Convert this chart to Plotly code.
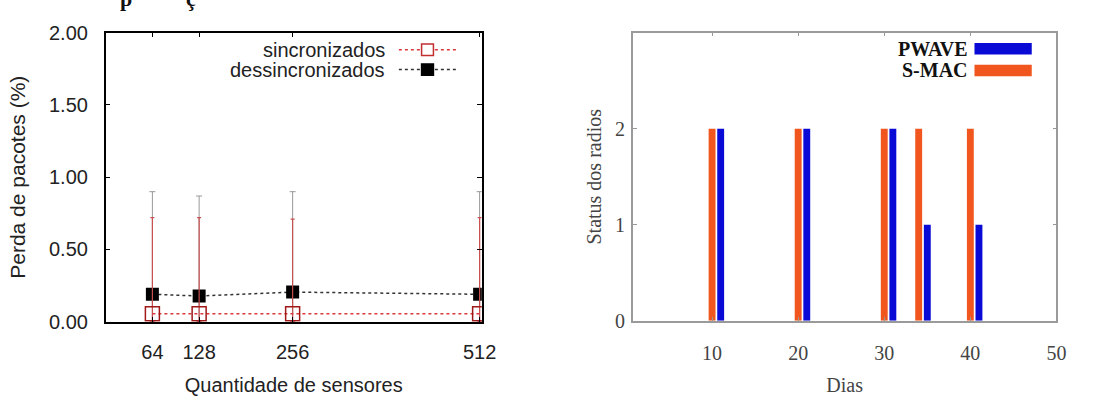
import plotly.graph_objects as go

# ---------------- data ----------------
sensores = [64, 128, 256, 512]
sinc = [0.055, 0.055, 0.055, 0.055]
sinc_top = [0.72, 0.72, 0.71, 0.72]
dessinc = [0.19, 0.178, 0.205, 0.19]
dessinc_top = [0.90, 0.87, 0.90, 0.90]

smac_days = [10, 20, 30, 34, 40]
smac_vals = [2, 2, 2, 2, 2]
pwave_days = [11, 21, 31, 35, 41]
pwave_vals = [2, 2, 2, 1, 1]

left_yticks = [0, 0.5, 1.0, 1.5, 2.0]
left_yticklabels = ["0.00", "0.50", "1.00", "1.50", "2.00"]
right_xticks = [10, 20, 30, 40, 50]
right_yticks = [0, 1, 2]

W, H = 1104, 396
def px(x):
    return x / W
def py(y):
    return (H - y) / H

RED = "#d9393c"
BLUE = "#0a0ad6"
ORANGE = "#f0561e"
SANS = "Liberation Sans, Arial, sans-serif"
SERIF = "Liberation Serif, Times New Roman, serif"
LFONT = dict(family=SANS, size=20, color="#222")
RFONT = dict(family=SERIF, size=20, color="#444")

fig = go.Figure()

# left chart
fig.add_trace(go.Scatter(
    x=sensores, y=dessinc, name="dessincronizados", mode="lines+markers",
    line=dict(color="#333333", width=1.5, dash="dot"),
    marker=dict(symbol="square", size=13, color="black"),
    error_y=dict(type="data", symmetric=False,
                 array=[t - v for t, v in zip(dessinc_top, dessinc)],
                 arrayminus=dessinc, color="#999999", thickness=1, width=3),
    xaxis="x", yaxis="y", showlegend=False))
fig.add_trace(go.Scatter(
    x=sensores, y=sinc, name="sincronizados", mode="lines+markers",
    line=dict(color=RED, width=1.5, dash="dot"),
    marker=dict(symbol="square-open", size=14, color="#a01818", line=dict(width=1.5)),
    error_y=dict(type="data", symmetric=False,
                 array=[t - v for t, v in zip(sinc_top, sinc)],
                 arrayminus=sinc, color="#c85050", thickness=1.2, width=2),
    xaxis="x", yaxis="y", showlegend=False))

# right chart
fig.add_trace(go.Bar(x=smac_days, y=smac_vals, name="S-MAC", width=0.8,
                     marker=dict(color=ORANGE, line=dict(width=0)),
                     xaxis="x2", yaxis="y2", showlegend=False))
fig.add_trace(go.Bar(x=pwave_days, y=pwave_vals, name="PWAVE", width=0.8,
                     marker=dict(color=BLUE, line=dict(width=0)),
                     xaxis="x2", yaxis="y2", showlegend=False))

fig.update_layout(
    width=W, height=H, margin=dict(l=0, r=0, t=0, b=0),
    paper_bgcolor="white", plot_bgcolor="white", barmode="overlay",
    xaxis=dict(domain=[px(107), px(488)], range=[0, 515],
               tickvals=sensores, ticktext=[str(s) for s in sensores],
               ticks="inside", ticklen=5, tickcolor="black",
               showline=True, linecolor="black", linewidth=1.5, mirror="ticks",
               showgrid=False, zeroline=False,
               tickfont=LFONT, ticklabelstandoff=12,
               title=dict(text="Quantidade de sensores", font=LFONT, standoff=17),
               anchor="y"),
    yaxis=dict(domain=[py(329), py(23)], range=[0, 2],
               tickvals=left_yticks, ticktext=left_yticklabels,
               ticks="inside", ticklen=5, tickcolor="black",
               showline=True, linecolor="black", linewidth=1.5, mirror="ticks",
               showgrid=False, zeroline=False,
               tickfont=LFONT, ticklabelstandoff=12,
               title=dict(text="Perda de pacotes (%)",
                          font=dict(family=SANS, size=21, color="#222"), standoff=18),
               anchor="x"),
    xaxis2=dict(domain=[px(641), px(1070)], range=[0.8, 50],
                tickvals=right_xticks, ticks="inside", ticklen=4, tickcolor="#999",
                showline=True, linecolor="#9a9a9a", linewidth=1.5, mirror="ticks",
                showgrid=False, zeroline=False,
                tickfont=RFONT, ticklabelstandoff=13,
                title=dict(text="Dias", font=RFONT, standoff=16),
                anchor="y2"),
    yaxis2=dict(domain=[py(328), py(23)], range=[0, 3],
                tickvals=right_yticks, ticks="inside", ticklen=4, tickcolor="#999",
                showline=True, linecolor="#9a9a9a", linewidth=1.5, mirror="ticks",
                showgrid=False, zeroline=False,
                tickfont=RFONT, ticklabelstandoff=2,
                title=dict(text="Status dos radios",
                           font=dict(family=SERIF, size=20, color="#444"), standoff=8),
                anchor="x2"),
)

# legends drawn as text + key samples (text left of key, like gnuplot)
shapes = []
annotations = []
for label, yy, dash_col, filled in [("sincronizados", 41, RED, False),
                                    ("dessincronizados", 62, "#333", True)]:
    annotations.append(dict(text=label, x=px(392), y=py(yy), xref="paper", yref="paper",
                            xanchor="right", yanchor="middle", showarrow=False,
                            font=LFONT))
    shapes.append(dict(type="line", xref="paper", yref="paper",
                       x0=px(404), x1=px(463), y0=py(yy), y1=py(yy),
                       line=dict(color=dash_col, width=1.5, dash="dot")))
    shapes.append(dict(type="rect", xref="paper", yref="paper",
                       x0=px(427), x1=px(439), y0=py(yy + 6), y1=py(yy - 6),
                       fillcolor=("black" if filled else "white"),
                       line=dict(color=("black" if filled else "#c03030"), width=1.5)))
for label, yy, col in [("PWAVE", 40, BLUE), ("S-MAC", 63, ORANGE)]:
    annotations.append(dict(text="<b>%s</b>" % label, x=px(982), y=py(yy), xref="paper",
                            yref="paper", xanchor="right", yanchor="middle", showarrow=False,
                            font=dict(family=SERIF, size=20, color="#111")))
    shapes.append(dict(type="rect", xref="paper", yref="paper",
                       x0=px(987), x1=px(1045), y0=py(yy + 6), y1=py(yy - 6),
                       fillcolor=col, line=dict(width=0)))

# cropped caption remnants at the top edge (only descenders visible, as in the source)
for ch, xx in [("p", 128), ("ç", 193)]:
    annotations.append(dict(text="<b>%s</b>" % ch, x=px(xx), y=py(2), xref="paper",
                            yref="paper", xanchor="center", yanchor="bottom",
                            showarrow=False, font=dict(family=SERIF, size=22, color="#111")))

fig.update_layout(shapes=shapes, annotations=annotations)
fig.write_html("out.html")
